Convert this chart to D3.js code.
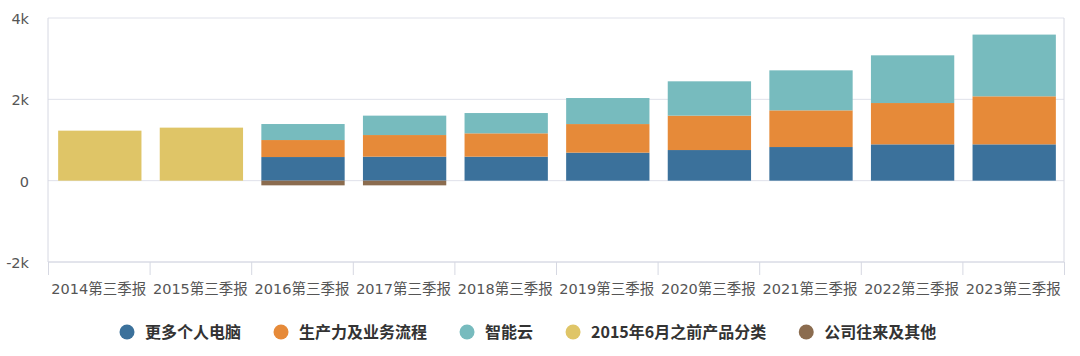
<!DOCTYPE html>
<html><head><meta charset="utf-8">
<script src="https://cdn.jsdelivr.net/npm/d3@7"></script>
<style>
body{margin:0;background:#fff;}
svg{display:block;font-family:"Noto Sans CJK SC","Noto Sans",sans-serif;}
</style></head><body>
<svg id="c" width="1080" height="356"></svg>
<script>
const categories = ["2014第三季报","2015第三季报","2016第三季报","2017第三季报","2018第三季报","2019第三季报","2020第三季报","2021第三季报","2022第三季报","2023第三季报"];
const seriesNames = ["更多个人电脑","生产力及业务流程","智能云","2015年6月之前产品分类","公司往来及其他"];
const morePC      = [0,0,581,590,590,689,753,827,893,893];
const productivity= [0,0,418,532,574,703,846,902,1016,1181];
const cloud       = [0,0,394,477,499,640,844,984,1173,1518];
const legacy      = [1230,1304,0,0,0,0,0,0,0,0];
const corporate   = [0,0,-115,-115,0,0,0,0,0,0];
const yTicks = [-2000,0,2000,4000];
const yTickLabels = ["-2k","0","2k","4k"];
const colors = ["#3b719b","#e68a39","#77bbbe","#dfc567","#8b6c4f"];

const svg = d3.select("#c");
const L=48,R=1064,T=18,B=262;
const xb = d3.scaleBand().domain(categories).range([L,R]);
const barW = xb.bandwidth()*0.82;
const y = d3.scaleLinear().domain([-2000,4000]).range([B,T]);

// grid
svg.append("g").selectAll("line").data(yTicks).join("line")
  .attr("x1",L).attr("x2",R).attr("y1",d=>y(d)).attr("y2",d=>y(d))
  .attr("stroke","#dfe1ea").attr("stroke-width",1);
// frame
svg.append("line").attr("x1",L).attr("x2",L).attr("y1",T).attr("y2",B).attr("stroke","#d6d8e2");
svg.append("line").attr("x1",R).attr("x2",R).attr("y1",T).attr("y2",B).attr("stroke","#d6d8e2");

const seriesVals=[morePC,productivity,cloud,legacy,corporate];
const rows = categories.map((c,i)=>{const o={cat:c};seriesNames.forEach((s,k)=>o[s]=seriesVals[k][i]);return o;});
const stack = d3.stack().keys(seriesNames).offset(d3.stackOffsetDiverging);
const layers = stack(rows);
svg.append("g").selectAll("g").data(layers).join("g")
  .attr("fill",(d,i)=>colors[i])
  .selectAll("rect").data(d=>d).join("rect")
  .attr("x",d=>xb(d.data.cat)+xb.bandwidth()/2-barW/2+1).attr("width",barW)
  .attr("y",d=>y(Math.max(d[0],d[1]))).attr("height",d=>Math.abs(y(d[0])-y(d[1])));

// x axis
const gx = svg.append("g").attr("transform",`translate(0,${B})`);
gx.append("line").attr("x1",L).attr("x2",R).attr("stroke","#d6d8e2");
const ticksX = categories.map(c=>xb(c)).concat([R]);
gx.selectAll("line.t").data(ticksX).join("line").attr("class","t")
  .attr("x1",d=>d+0.5).attr("x2",d=>d+0.5).attr("y1",0).attr("y2",13).attr("stroke","#d6d8e2");
gx.selectAll("text").data(categories).join("text")
  .attr("x",d=>xb(d)+xb.bandwidth()/2).attr("y",32).attr("text-anchor","middle")
  .attr("font-family","'DejaVu Sans','Noto Sans CJK SC',sans-serif")
  .attr("font-size",14.5).attr("fill","#555").text(d=>d);

// y labels
svg.append("g").selectAll("text").data(yTicks).join("text")
  .attr("x",29).attr("y",d=>y(d)+6).attr("text-anchor","end")
  .attr("font-family","'DejaVu Sans',sans-serif")
  .attr("font-size",14.5).attr("fill","#555").text((d,i)=>yTickLabels[i]);

// legend
const lg = svg.append("g").attr("transform","translate(0,332)");
let cx = 127;
seriesNames.forEach((s,i)=>{
  lg.append("circle").attr("cx",cx).attr("cy",0).attr("r",7.5).attr("fill",colors[i]);
  const t = lg.append("text").attr("x",cx+18).attr("y",5.5).attr("font-size",16).attr("font-weight","bold")
    .attr("fill","#333").text(s);
  cx += 18 + t.node().getComputedTextLength() + 40;
});
</script></body></html>
